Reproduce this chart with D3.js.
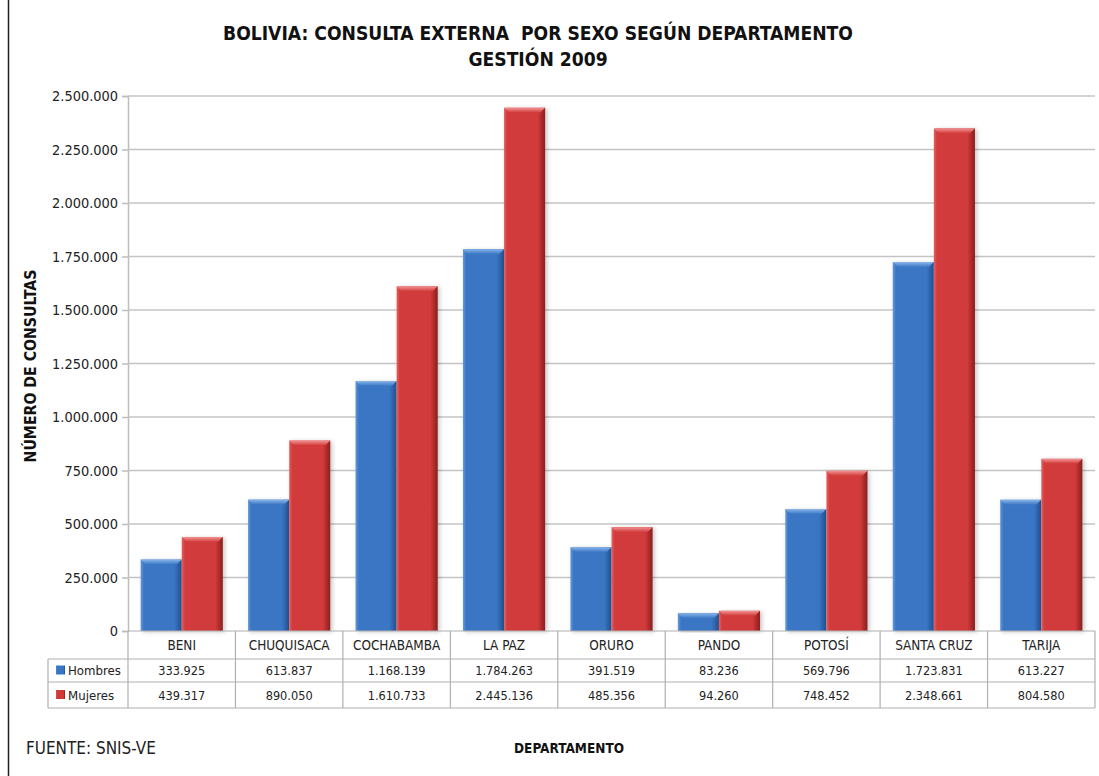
<!DOCTYPE html>
<html>
<head>
<meta charset="utf-8">
<script src="https://cdn.jsdelivr.net/npm/d3@7"></script>
<style>
  html, body { margin: 0; padding: 0; background: #fff; }
  svg { display: block; }
  text { font-family: "DejaVu Sans Condensed", "DejaVu Sans", sans-serif; }
</style>
</head>
<body>
<svg id="chart" width="1099" height="776"></svg>
<script>
// Consulta externa 2009 by department and sex
const departamentos = ["BENI", "CHUQUISACA", "COCHABAMBA", "LA PAZ", "ORURO", "PANDO", "POTOSÍ", "SANTA CRUZ", "TARIJA"];
const hombres = [333925, 613837, 1168139, 1784263, 391519, 83236, 569796, 1723831, 613227];
const mujeres = [439317, 890050, 1610733, 2445136, 485356, 94260, 748452, 2348661, 804580];
const serieNombres = ["Hombres", "Mujeres"];
const yTicks = [0, 250000, 500000, 750000, 1000000, 1250000, 1500000, 1750000, 2000000, 2250000, 2500000];

const fmt = v => d3.format(",")(v).replace(/,/g, ".");

const svg = d3.select("#chart");
const W = 1099, H = 776;
const plot = { left: 128, right: 1095, top: 96, bottom: 631 };

// scale a text's font so that a reference string spans the given width
function fontFor(str, width, weight) {
  const t = svg.append("text").attr("font-size", 100).attr("font-weight", weight || "normal").text(str);
  const w = t.node().getComputedTextLength();
  t.remove();
  return 100 * width / w;
}

// Gradients giving the bars a bevelled look
const defs = svg.append("defs");
const palettes = {
  Hombres: { dark: "#21508f", mid: "#3a76c4", light: "#6399da", top: "#8ab6ea" },
  Mujeres: { dark: "#8a1e1e", mid: "#d23a3a", light: "#e66060", top: "#f29494" }
};
Object.entries(palettes).forEach(([k, p]) => {
  const g = defs.append("linearGradient").attr("id", "g-" + k).attr("x1", 0).attr("x2", 1).attr("y1", 0).attr("y2", 0);
  g.append("stop").attr("offset", "0%").attr("stop-color", p.light);
  g.append("stop").attr("offset", "8%").attr("stop-color", p.mid);
  g.append("stop").attr("offset", "82%").attr("stop-color", p.mid);
  g.append("stop").attr("offset", "100%").attr("stop-color", p.dark);
  const t = defs.append("linearGradient").attr("id", "t-" + k).attr("x1", 0).attr("x2", 0).attr("y1", 0).attr("y2", 1);
  t.append("stop").attr("offset", "0%").attr("stop-color", p.top);
  t.append("stop").attr("offset", "100%").attr("stop-color", p.mid);
});
const shadow = defs.append("filter").attr("id", "shadow").attr("x", "-20%").attr("y", "-5%").attr("width", "150%").attr("height", "115%");
shadow.append("feDropShadow").attr("dx", 2).attr("dy", 1).attr("stdDeviation", 2).attr("flood-color", "#000").attr("flood-opacity", 0.22);

// Left border line
svg.append("line").attr("x1", 8.5).attr("x2", 8.5).attr("y1", 0).attr("y2", H)
  .attr("stroke", "#222").attr("stroke-width", 1.5);

// Title
const titleSize = fontFor("BOLIVIA: CONSULTA EXTERNA  POR SEXO SEGÚN DEPARTAMENTO", 624, "bold");
svg.append("text").attr("x", 538).attr("y", 40).attr("text-anchor", "middle")
  .attr("font-size", titleSize).attr("font-weight", "bold").attr("fill", "#111")
  .style("white-space", "pre")
  .text("BOLIVIA: CONSULTA EXTERNA  POR SEXO SEGÚN DEPARTAMENTO");
svg.append("text").attr("x", 538).attr("y", 66).attr("text-anchor", "middle")
  .attr("font-size", titleSize).attr("font-weight", "bold").attr("fill", "#111")
  .text("GESTIÓN 2009");

// Scales
const x0 = d3.scaleBand().domain(departamentos).range([plot.left, plot.right]).paddingInner(0.235).paddingOuter(0.1175);
const xCol = d3.scaleBand().domain(departamentos).range([plot.left, plot.right]);
const x1 = d3.scaleBand().domain(serieNombres).range([0, x0.bandwidth()]);
const y = d3.scaleLinear().domain([0, 2500000]).range([plot.bottom, plot.top]);

// Gridlines and y axis
const tickSize = fontFor("2.500.000", 66);
const yAxis = d3.axisLeft(y).tickValues(yTicks).tickFormat(fmt).tickSize(6).tickPadding(4);
const ga = svg.append("g").attr("transform", `translate(${plot.left},0)`).call(yAxis);
ga.select(".domain").attr("stroke", "#bdbdbd").attr("stroke-width", 1.5);
ga.selectAll(".tick line").attr("stroke", "#bdbdbd").attr("stroke-width", 1.5);
ga.selectAll(".tick text").attr("font-size", tickSize).attr("fill", "#222")
  .style("font-family", "'DejaVu Sans Condensed', sans-serif");
svg.append("g").selectAll("line").data(yTicks.filter(d => d > 0)).join("line")
  .attr("x1", plot.left).attr("x2", plot.right)
  .attr("y1", d => y(d)).attr("y2", d => y(d))
  .attr("stroke", "#c4c4c4").attr("stroke-width", 1.5);

// Y axis title
svg.append("text").attr("transform", `translate(36,366) rotate(-90)`)
  .attr("text-anchor", "middle").attr("font-size", fontFor("NÚMERO DE CONSULTAS", 193, "bold"))
  .attr("font-weight", "bold").attr("fill", "#111")
  .text("NÚMERO DE CONSULTAS");

// Bars
const rows = departamentos.map((d, i) => ({ dep: d, vals: [{ s: "Hombres", v: hombres[i] }, { s: "Mujeres", v: mujeres[i] }] }));
const groups = svg.append("g").selectAll("g").data(rows).join("g")
  .attr("transform", d => `translate(${x0(d.dep)},0)`);
const bar = groups.selectAll("g").data(d => d.vals).join("g").attr("filter", "url(#shadow)");
bar.append("rect")
  .attr("x", d => x1(d.s)).attr("width", x1.bandwidth())
  .attr("y", d => y(d.v)).attr("height", d => y(0) - y(d.v))
  .attr("fill", d => `url(#g-${d.s})`);
// bevelled top edge
bar.append("path")
  .attr("d", d => {
    const xa = x1(d.s), xb = xa + x1.bandwidth(), yt = y(d.v), b = Math.min(5, (y(0) - y(d.v)) / 2);
    return `M${xa},${yt}L${xb},${yt}L${xb - b},${yt + b}L${xa + b},${yt + b}Z`;
  })
  .attr("fill", d => `url(#t-${d.s})`);

// Data table under the plot
const tb = { r0: 631, r1: 659, r2: 682, r3: 708, legendLeft: 48 };
const tg = svg.append("g");
const gridC = "#b0b0b0";
const catSize = fontFor("CHUQUISACA", 81);
const valSize = fontFor("333.925", 47);
const legSize = fontFor("Hombres", 53);
// horizontal lines
tg.append("line").attr("x1", plot.left).attr("x2", plot.right).attr("y1", tb.r0).attr("y2", tb.r0).attr("stroke", gridC).attr("stroke-width", 1.2);
[tb.r1, tb.r2, tb.r3].forEach(yy => tg.append("line").attr("x1", tb.legendLeft).attr("x2", plot.right).attr("y1", yy).attr("y2", yy).attr("stroke", gridC).attr("stroke-width", 1.2));
// vertical lines
const colEdges = departamentos.map(d => xCol(d)).concat([plot.right]);
tg.selectAll("line.col").data(colEdges).join("line").attr("class", "col")
  .attr("x1", d => d).attr("x2", d => d).attr("y1", tb.r0).attr("y2", tb.r3)
  .attr("stroke", gridC).attr("stroke-width", 1.2);
tg.append("line").attr("x1", tb.legendLeft).attr("x2", tb.legendLeft).attr("y1", tb.r1).attr("y2", tb.r3).attr("stroke", gridC).attr("stroke-width", 1.2);
// category labels
tg.selectAll("text.cat").data(departamentos).join("text").attr("class", "cat")
  .attr("x", d => xCol(d) + xCol.bandwidth() / 2).attr("y", (tb.r0 + tb.r1) / 2 + 4.5)
  .attr("text-anchor", "middle").attr("font-size", catSize).attr("fill", "#222").text(d => d);
// value rows
[[hombres, tb.r1, tb.r2, "Hombres"], [mujeres, tb.r2, tb.r3, "Mujeres"]].forEach(([arr, a, b, s]) => {
  tg.selectAll(null).data(arr).join("text")
    .attr("x", (d, i) => xCol(departamentos[i]) + xCol.bandwidth() / 2).attr("y", (a + b) / 2 + 4.5)
    .attr("text-anchor", "middle").attr("font-size", valSize).attr("fill", "#222").text(d => fmt(d));
  tg.append("rect").attr("x", 56).attr("y", (a + b) / 2 - 5).attr("width", 9).attr("height", 9)
    .attr("fill", `url(#g-${s})`);
  tg.append("text").attr("x", 68).attr("y", (a + b) / 2 + 4.5).attr("font-size", legSize).attr("fill", "#222").text(s);
});

// Footer
svg.append("text").attr("x", 26).attr("y", 754).attr("font-size", fontFor("FUENTE: SNIS-VE", 130)).attr("fill", "#222").text("FUENTE: SNIS-VE");
svg.append("text").attr("x", 569).attr("y", 753).attr("text-anchor", "middle")
  .attr("font-size", fontFor("DEPARTAMENTO", 110, "bold")).attr("font-weight", "bold").attr("fill", "#111").text("DEPARTAMENTO");
</script>
</body>
</html>
